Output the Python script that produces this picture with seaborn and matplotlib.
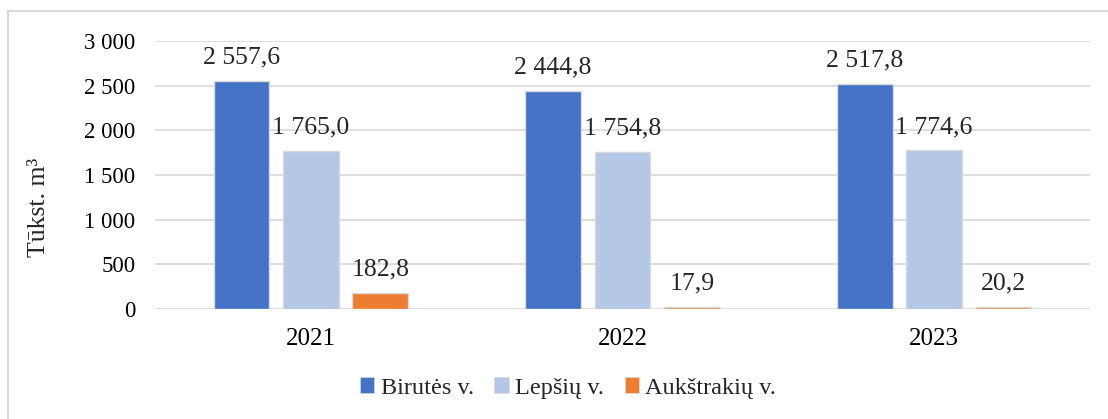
import pandas as pd
import matplotlib.pyplot as plt
import seaborn as sns
from matplotlib.patches import Rectangle, Patch

years = ['2021', '2022', '2023']
series = ['Birutės v.', 'Lepšių v.', 'Aukštrakių v.']
birutes = [2557.6, 2444.8, 2517.8]
lepsiu = [1765.0, 1754.8, 1774.6]
aukstrakiu = [182.8, 17.9, 20.2]
colors = ['#4472C4', '#B4C7E7', '#ED7D31']
yticks = [0, 500, 1000, 1500, 2000, 2500, 3000]

df = pd.DataFrame({
    'year': years * 3,
    'series': [series[0]] * 3 + [series[1]] * 3 + [series[2]] * 3,
    'value': birutes + lepsiu + aukstrakiu,
})

sns.set_style('white')
plt.rcParams['font.family'] = ['Liberation Serif', 'DejaVu Serif']

fig = plt.figure(figsize=(11.08, 4.19), dpi=100)
ax = fig.add_axes([155 / 1108, 1 - 309 / 419, 935 / 1108, 268 / 419])

sns.barplot(data=df, x='year', y='value', hue='series', hue_order=series,
            palette=colors, saturation=1, width=0.668, gap=0.2,
            edgecolor='#D9D9D9', linewidth=1, legend=False, ax=ax)


def fmt(v):
    return f'{v:,.1f}'.replace(',', ' ').replace('.', ',')


for cont in ax.containers:
    ax.bar_label(cont, labels=[fmt(b.get_height()) for b in cont],
                 padding=9, fontsize=18.5)

ax.set_ylim(0, 3000)
ax.set_xlim(-0.5, 2.5)
ax.set_yticks(yticks)
ax.set_yticklabels([f'{t:,}'.replace(',', ' ') for t in yticks])
ax.yaxis.grid(True, color='#D9D9D9', linewidth=1.2)
ax.set_axisbelow(True)
for s in ax.spines.values():
    s.set_visible(False)
ax.tick_params(axis='both', length=0, colors='black')
ax.tick_params(axis='y', pad=14, labelsize=16.5)
ax.tick_params(axis='x', pad=14, labelsize=18)
ax.set_xlabel('')
ax.set_ylabel('Tūkst. m³', fontsize=18.5)
ax.yaxis.set_label_coords(-0.112, 0.38)

handles = [Patch(facecolor=c, edgecolor='#D9D9D9', linewidth=0.5) for c in colors]
fig.legend(handles, series, loc='center',
           bbox_to_anchor=(568 / 1108, 1 - 388 / 419),
           ncol=3, frameon=False, fontsize=17.5, handlelength=0.6,
           handleheight=0.6, handletextpad=0.25, columnspacing=0.85)

fig.patches.append(Rectangle((8 / 1108, -0.1), 1.2, 1 - 11 / 419 + 0.1,
                             transform=fig.transFigure, fill=False,
                             edgecolor='#D9D9D9', linewidth=1.5))

fig.savefig('out.png', dpi=100)
